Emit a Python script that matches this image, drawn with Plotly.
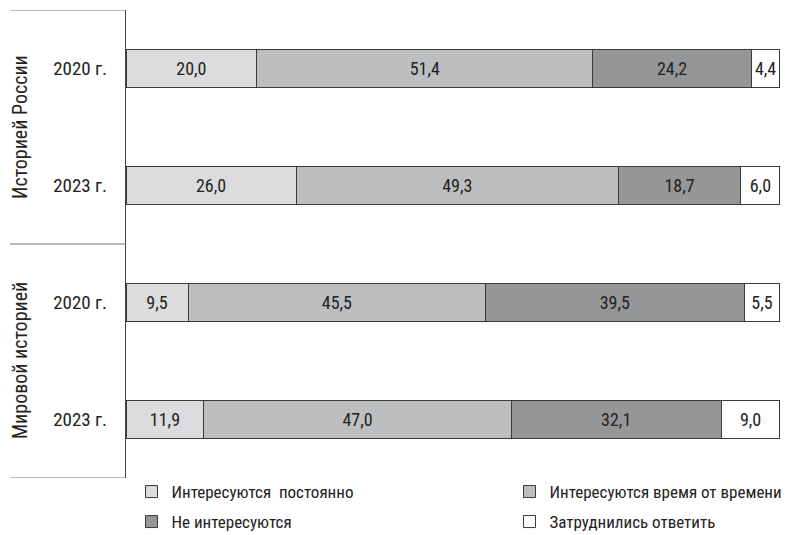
import plotly.graph_objects as go

groups = ["Историей России", "Мировой историей"]
years = ["2020 г.", "2023 г.", "2020 г.", "2023 г."]
row_group = [0, 0, 1, 1]
series_names = ["Интересуются  постоянно", "Интересуются время от времени",
                "Не интересуются", "Затруднились ответить"]
constantly = [20.0, 26.0, 9.5, 11.9]
sometimes = [51.4, 49.3, 45.5, 47.0]
not_interested = [24.2, 18.7, 39.5, 32.1]
hard_to_say = [4.4, 6.0, 5.5, 9.0]
colors = ["#dcdcde", "#bdbec0", "#959698", "#ffffff"]

FONT = "Liberation Sans Narrow, Roboto Condensed, Arial Narrow, Liberation Sans, sans-serif"
rows = list(range(len(years)))
series = [constantly, sometimes, not_interested, hard_to_say]
legend_ids = ["legend", "legend2", "legend3", "legend4"]

# page has an 8px body margin: figure is 797x527 so the page is 805x535
W, H = 797, 527
L, R, T, B = 118, 25, 2, 57
PW, PH = W - L - R, H - T - B  # 654 x 468

fig = go.Figure()
for i, (name, vals) in enumerate(zip(series_names, series)):
    fig.add_trace(go.Bar(
        y=rows, x=vals, orientation="h", name=name,
        marker=dict(color=colors[i], line=dict(color="#3a3a3a", width=1)),
        text=[f"{v:.1f}".replace(".", ",") for v in vals],
        textposition="inside", insidetextanchor="middle",
        constraintext="none", textangle=0, cliponaxis=False,
        textfont=dict(family=FONT, size=18, color="#222222"),
        width=0.32,
        legend=legend_ids[i],
        hoverinfo="skip",
    ))

# legend anchor positions in figure px (left edge, vertical centre)
leg_pos = [(123.5, 484), (501.5, 484), (123.5, 514), (501.5, 514)]
leg_layout = {}
for lid, (px, py) in zip(legend_ids, leg_pos):
    leg_layout[lid] = dict(
        x=(px - L) / PW, y=(H - B - py) / PH,
        xanchor="left", yanchor="middle", orientation="h",
        font=dict(family=FONT, size=17, color="#222222"),
        itemwidth=30, bgcolor="rgba(0,0,0,0)",
    )

fig.update_layout(
    width=W, height=H,
    margin=dict(l=L, r=R, t=T, b=B, autoexpand=False),
    barmode="stack",
    plot_bgcolor="white", paper_bgcolor="white",
    font=dict(family=FONT, size=18, color="#222222"),
    xaxis=dict(range=[0, 100.002], visible=False, fixedrange=True),
    yaxis=dict(range=[3.5, -0.5], tickvals=rows, ticktext=years,
               showline=True, linecolor="#444444", linewidth=1.2,
               showgrid=False, zeroline=False, ticks="",
               ticklabelstandoff=14, automargin=False,
               tickfont=dict(family=FONT, size=19, color="#222222")),
    showlegend=True,
    **leg_layout,
)

# group separator lines on the left (top, middle, bottom)
for yb in [-0.5, 1.5, 3.5]:
    fig.add_shape(type="line", xref="paper", yref="y",
                  x0=(2 - L) / PW, x1=0, y0=yb, y1=yb,
                  line=dict(color="#777777", width=1.2))

# rotated group labels
for gi, g in enumerate(groups):
    idx = [r for r, gg in zip(rows, row_group) if gg == gi]
    fig.add_annotation(text=g, xref="paper", yref="y",
                       x=(12 - L) / PW, y=sum(idx) / len(idx),
                       xanchor="center", yanchor="middle",
                       textangle=-90, showarrow=False,
                       font=dict(family=FONT, size=20, color="#222222"))

fig.write_html("out.html")
